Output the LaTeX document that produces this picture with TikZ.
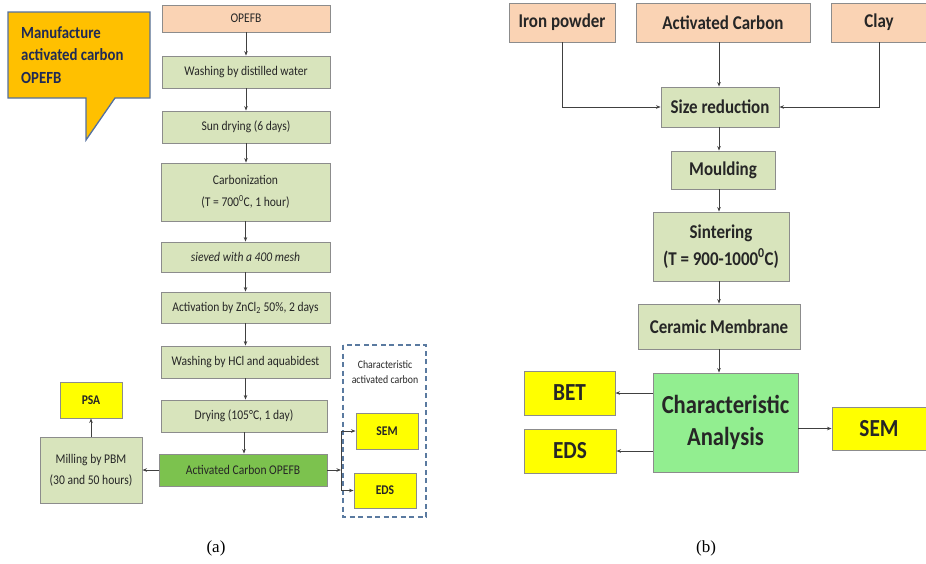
\documentclass[tikz,border=0pt]{standalone}
\usepackage{fontspec}
\setmainfont{Carlito}
\newfontfamily\cf[FakeStretch=0.87]{Carlito}
\newfontfamily\capfont{Liberation Serif}
\usetikzlibrary{arrows.meta}
\definecolor{boxgreen}{HTML}{D8E4BC}
\definecolor{boxpeach}{HTML}{FAD3B4}
\definecolor{boxyellow}{HTML}{FFFF00}
\definecolor{acgreen}{HTML}{7CC24E}
\definecolor{cagreen}{HTML}{92EE90}
\definecolor{boxline}{HTML}{8C8C8C}
\definecolor{arrline}{HTML}{404040}
\definecolor{calloutfill}{HTML}{FFC000}
\definecolor{calloutline}{HTML}{5470A0}
\definecolor{navy}{HTML}{1F2A55}
\definecolor{dashblue}{HTML}{5A7AA0}
\definecolor{txt}{HTML}{262626}
\begin{document}
\begin{tikzpicture}[x=1pt,y=-1pt,
  base/.style={draw=boxline,line width=0.9pt,inner sep=0pt,text=txt,align=center},
  gbox/.style={base,fill=boxgreen},
  pbox/.style={base,fill=boxpeach},
  ybox/.style={base,fill=boxyellow},
  lft/.style={font=\cf\fontsize{13.3}{15}\selectfont},
  rgt/.style={font=\cf\bfseries\fontsize{19.5}{22}\selectfont},
  big/.style={font=\cf\bfseries\fontsize{26}{30}\selectfont},
  arr/.style={draw=arrline,line width=0.8pt,-{Stealth[length=4.5pt,width=3.5pt]}},
  ln/.style={draw=arrline,line width=0.8pt}]
\useasboundingbox (0,0) rectangle (926,563);
% ---------- (a) ----------
\filldraw[fill=calloutfill,draw=calloutline,line width=1.3pt]
  (8,12) -- (150,12) -- (150,98) -- (115,98) -- (86,140) -- (86,98) -- (8,98) -- cycle;
\node[anchor=north west,align=left,text=navy,inner sep=0pt,
      font=\cf\bfseries\fontsize{17}{22.5}\selectfont] (callout) at (21,26)
  {Manufacture\\activated carbon\\OPEFB};

\node[pbox,lft,minimum width=168pt,minimum height=27pt] (opefb) at (246,18.5) {OPEFB};
\node[gbox,lft,minimum width=168pt,minimum height=32pt] (wash1) at (246,72) {Washing by distilled water};
\node[gbox,lft,minimum width=168pt,minimum height=32pt] (sun) at (246,127) {Sun drying (6 days)};
\node[gbox,lft,minimum width=169pt,minimum height=58pt] (carb) at (245.5,192) {Carbonization\\[7pt](T = 700\textsuperscript{0}C, 1 hour)};
\node[gbox,lft,minimum width=169pt,minimum height=30pt] (sieve) at (245.5,257) {\itshape sieved with a 400 mesh};
\node[gbox,lft,minimum width=169pt,minimum height=31pt] (activ) at (245.5,307.5) {Activation by ZnCl\textsubscript{2} 50\%, 2 days};
\node[gbox,lft,minimum width=169pt,minimum height=32pt] (wash2) at (245.5,362) {Washing by HCl and aquabidest};
\node[gbox,lft,minimum width=166pt,minimum height=32pt] (dry) at (244,416) {Drying (105°C, 1 day)};
\node[base,fill=acgreen,lft,minimum width=168pt,minimum height=32pt] (acop) at (243,470) {Activated Carbon OPEFB};
\node[gbox,lft,minimum width=102pt,minimum height=66pt] (mill) at (91,470) {Milling by PBM\\[6pt](30 and 50 hours)};
\node[ybox,lft,font=\cf\bfseries\fontsize{13.3}{15}\selectfont,minimum width=62pt,minimum height=36pt] (psa) at (91,400) {PSA};

\draw[dashblue,line width=1.2pt,dash pattern=on 5pt off 3.5pt] (343,345) rectangle (426,517);
\node[text=txt,align=center,font=\cf\fontsize{11.3}{15}\selectfont,inner sep=0pt] (chartxt) at (385,372) {Characteristic\\activated carbon};
\node[ybox,lft,font=\cf\bfseries\fontsize{13.3}{15}\selectfont,minimum width=62pt,minimum height=36pt] (sem1) at (387,431) {SEM};
\node[ybox,lft,font=\cf\bfseries\fontsize{13.3}{15}\selectfont,minimum width=62pt,minimum height=35pt] (eds1) at (385,490.5) {EDS};

\foreach \a/\b in {opefb/wash1,wash1/sun,sun/carb,carb/sieve,sieve/activ,activ/wash2,wash2/dry,dry/acop}
  \draw[arr] (\a.south) -- (\a.south |- \b.north);
\draw[arr] (acop.west) -- (mill.east);
\draw[arr] (mill.north) -- (psa.south);
\coordinate (br) at (341,470);
\draw[arr] (acop.east) -- (br);
\draw[arr] (br) |- (sem1.west);
\draw[arr] (br) |- (eds1.west);

\node[font=\capfont\fontsize{17}{20}\selectfont,inner sep=0pt] (capa) at (216,548) {(a)};

% ---------- (b) ----------
\node[pbox,rgt,minimum width=106pt,minimum height=39pt] (iron) at (562,22.5) {Iron powder};
\node[pbox,rgt,minimum width=174pt,minimum height=39pt] (acin) at (723,22.5) {Activated Carbon};
\node[pbox,rgt,minimum width=96pt,minimum height=39pt] (clay) at (879,22.5) {Clay};
\node[gbox,rgt,minimum width=118pt,minimum height=40pt] (size) at (720,107) {Size reduction};
\node[gbox,rgt,minimum width=104pt,minimum height=38pt] (mould) at (723,170) {Moulding};
\node[gbox,rgt,minimum width=136pt,minimum height=69pt] (sint) at (721,246.5) {Sintering\\[5pt](T = 900-1000\textsuperscript{0}C)};
\node[gbox,rgt,minimum width=162pt,minimum height=45pt] (ceram) at (719,326.5) {Ceramic Membrane};
\node[base,fill=cagreen,big,minimum width=145pt,minimum height=99pt] (ca) at (725.5,422.5) {Characteristic\\[2pt]Analysis};
\node[ybox,font=\cf\bfseries\fontsize{24.5}{28}\selectfont,minimum width=91pt,minimum height=44pt] (bet) at (569.5,393) {BET};
\node[ybox,font=\cf\bfseries\fontsize{24.5}{28}\selectfont,minimum width=92pt,minimum height=44pt] (eds2) at (570,451) {EDS};
\node[ybox,font=\cf\bfseries\fontsize{24.5}{28}\selectfont,minimum width=94pt,minimum height=43pt] (sem2) at (879,428.5) {SEM};

\coordinate (col) at (719,0);
\draw[arr] (col |- acin.south) -- (col |- size.north);
\draw[arr] (col |- size.south) -- (col |- mould.north);
\draw[arr] (col |- mould.south) -- (col |- sint.north);
\draw[arr] (col |- sint.south) -- (col |- ceram.north);
\draw[arr] (col |- ceram.south) -- (col |- ca.north);
\draw[arr] (iron.south) |- (size.west);
\draw[arr] (clay.south) |- (size.east);
\draw[arr] (ca.west |- bet) -- (bet.east);
\draw[arr] (ca.west |- eds2) -- (eds2.east);
\draw[arr] (ca.east |- sem2) -- (sem2.west);

\node[font=\capfont\fontsize{17}{20}\selectfont,inner sep=0pt] (capb) at (706,548) {(b)};
\end{tikzpicture}
\end{document}
